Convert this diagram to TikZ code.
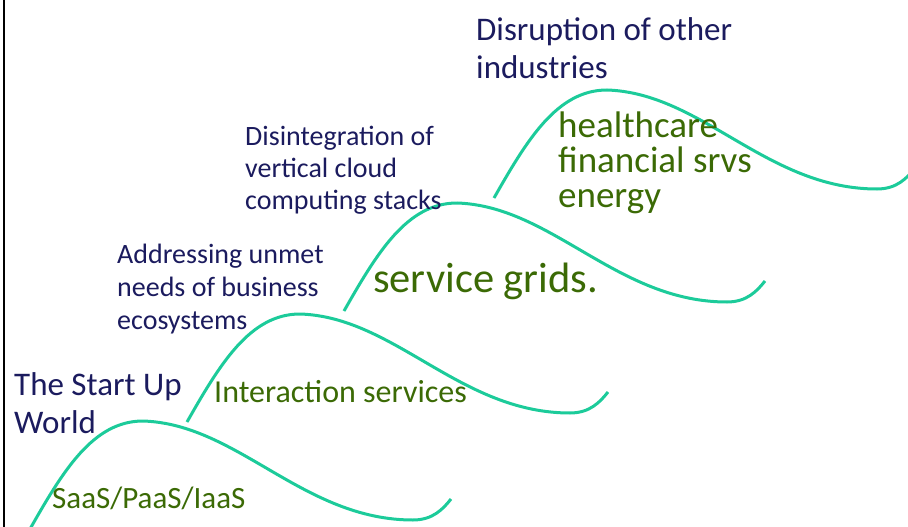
\documentclass[tikz,border=0pt]{standalone}
\usepackage{fontspec}
\setmainfont{Carlito}
\definecolor{navytext}{HTML}{1B1B5E}
\definecolor{leafgreen}{HTML}{3B6A05}
\definecolor{wavegreen}{HTML}{1CCB9A}
\begin{document}
\begin{tikzpicture}[x=1pt,y=1pt]
\tikzstyle{every node}+=[inner sep=0pt]
\tikzstyle{era}=[navytext, align=left, anchor=base west]
\tikzstyle{offer}=[leafgreen, align=left, anchor=base west]
\tikzstyle{wave}=[wavegreen, line width=3pt]
\useasboundingbox (0,0) rectangle (908,-527);
\draw [black, line width=2pt] (4,0) -- (4,-527);
% waves
\draw [wave] (30,-529) .. controls (63,-471) and (93,-421) .. (143,-421)
  .. controls (238,-424) and (303,-520) .. (413,-520)
  .. controls (433,-520) and (443,-509) .. (451,-499);
\draw [wave] (187,-422) .. controls (220,-364) and (250,-314) .. (300,-314)
  .. controls (395,-317) and (460,-413) .. (570,-413)
  .. controls (590,-413) and (600,-402) .. (608,-392);
\draw [wave] (344,-311) .. controls (377,-253) and (407,-203) .. (457,-203)
  .. controls (552,-206) and (617,-302) .. (727,-302)
  .. controls (747,-302) and (757,-291) .. (765,-281);
\draw [wave] (494,-198) .. controls (527,-140) and (557,-90) .. (607,-90)
  .. controls (702,-93) and (767,-189) .. (877,-189)
  .. controls (897,-189) and (907,-178) .. (915,-168);
% eras (base = last line)
\node (startup) [era, font={\fontsize{33}{38}\selectfont}] at (14,-433) {The Start Up\\World};
\node (ecosys) [era, font={\fontsize{28}{33}\selectfont}] at (117,-329) {Addressing unmet\\needs of business\\ecosystems};
\node (stacks) [era, font={\fontsize{28}{32}\selectfont}] at (245,-209) {Disintegration of\\vertical cloud\\computing stacks};
\node (disrupt) [era, font={\fontsize{33}{38}\selectfont}] at (476,-78) {Disruption of other\\industries};
% offerings
\node (saas) [offer, font={\fontsize{31}{36}\selectfont}] at (52,-508) {SaaS/PaaS/IaaS};
\node (interact) [offer, font={\fontsize{32}{38}\selectfont}] at (214,-402) {Interaction services};
\node (grids) [offer, font={\fontsize{42.5}{48}\selectfont}] at (373,-292) {service grids.};
\node (sectors) [offer, font={\fontsize{37}{35}\selectfont}] at (558,-207) {healthcare\\financial srvs\\energy};
\end{tikzpicture}
\end{document}
